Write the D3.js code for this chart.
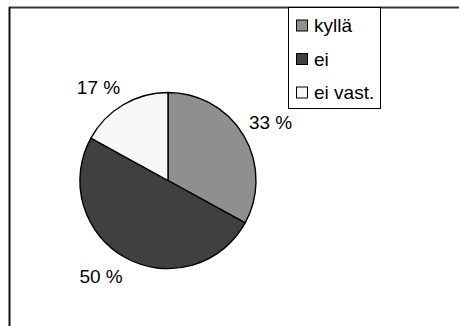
<!DOCTYPE html>
<html>
<head>
<meta charset="utf-8">
<script src="https://cdn.jsdelivr.net/npm/d3@7/dist/d3.min.js"></script>
<style>
  html, body { margin: 0; padding: 0; background: #fff; }
  svg { display: block; }
  text { font-family: "Liberation Sans", Arial, sans-serif; fill: #000; }
</style>
</head>
<body>
<svg id="chart" width="459" height="326"></svg>
<script>
// Answer categories and their shares (percent)
const categories = ["kyllä", "ei", "ei vast."];
const values = [33, 50, 17];
const colors = ["#8f8f8f", "#404040", "#f7f7f7"];

const W = 459, H = 326;
const svg = d3.select("#chart");

// Chart area frame (top and left edges visible)
svg.append("line").attr("x1", 9).attr("y1", 7.5).attr("x2", W).attr("y2", 7.5)
  .attr("stroke", "#383838").attr("stroke-width", 2);
svg.append("line").attr("x1", 9.5).attr("y1", 7).attr("x2", 9.5).attr("y2", H)
  .attr("stroke", "#111").attr("stroke-width", 2);

// Pie
const cx = 168, cy = 180.5, R = 88;
const pie = d3.pie().sort(null).value(d => d.value).startAngle(0).endAngle(2 * Math.PI);
const data = categories.map((c, i) => ({ name: c, value: values[i], color: colors[i] }));
const arcs = pie(data);
const arc = d3.arc().innerRadius(0).outerRadius(R);

const g = svg.append("g").attr("transform", `translate(${cx},${cy})`);
g.selectAll("path.slice").data(arcs).enter().append("path")
  .attr("class", "slice")
  .attr("d", arc)
  .attr("fill", d => d.data.color)
  .attr("stroke", "#000")
  .attr("stroke-width", 1.4)
  .attr("stroke-linejoin", "round");

// Percentage labels: the label box corner nearest the pie sits just outside the slice bisector
const labelRx = 94, labelRy = 101;
const fontSize = 19;
const digitH = 13.5;
g.selectAll("text.pct").data(arcs).enter().append("text")
  .attr("class", "pct")
  .attr("font-size", fontSize)
  .each(function(d) {
    const a = (d.startAngle + d.endAngle) / 2;
    const ux = Math.sin(a), uy = -Math.cos(a);
    const px = ux * labelRx, py = uy * labelRy;
    d3.select(this)
      .text(Math.round(d.data.value) + " %")
      .attr("text-anchor", ux >= 0 ? "start" : "end")
      .attr("x", px)
      .attr("y", uy >= 0 ? py + digitH : py);
  });

// Legend
const lg = svg.append("g");
lg.append("rect").attr("x", 288.5).attr("y", 7.5).attr("width", 92).attr("height", 101)
  .attr("fill", "#fff").attr("stroke", "#000").attr("stroke-width", 1);
const rowY = d3.scalePoint().domain(categories).range([26, 93]);
const items = lg.selectAll("g.item").data(data).enter().append("g").attr("class", "item")
  .attr("transform", d => `translate(0,${rowY(d.name)})`);
items.append("rect").attr("x", 296.5).attr("y", -6).attr("width", 11).attr("height", 11)
  .attr("fill", d => d.color).attr("stroke", "#000").attr("stroke-width", 1);
items.append("text").attr("x", 314).attr("y", 6).attr("font-size", fontSize)
  .text(d => d.name);
</script>
</body>
</html>
